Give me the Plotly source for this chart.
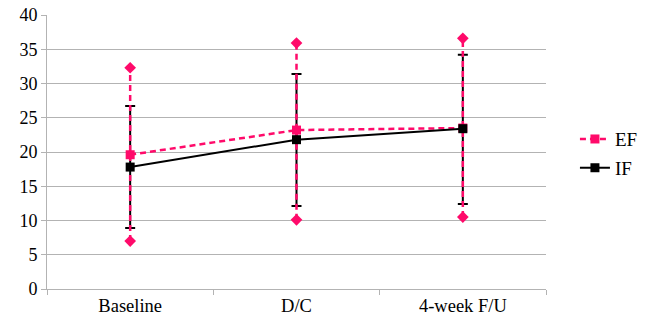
import plotly.graph_objects as go

categories = ["Baseline", "D/C", "4-week F/U"]
ef_mean = [19.6, 23.2, 23.5]
ef_low = [7.0, 10.1, 10.5]
ef_high = [32.3, 35.9, 36.6]
if_mean = [17.8, 21.8, 23.4]
if_low = [8.9, 12.1, 12.4]
if_high = [26.7, 31.4, 34.2]
y_ticks = [0, 5, 10, 15, 20, 25, 30, 35, 40]

PINK = "#ff0a6a"
FONT = "Liberation Serif, Times New Roman, serif"

fig = go.Figure()

# IF error bars (solid with caps)
fig.add_trace(go.Scatter(
    x=categories, y=if_mean, mode="markers",
    marker=dict(size=1, color="rgba(0,0,0,0)"),
    error_y=dict(type="data", symmetric=False,
                 array=[h - m for h, m in zip(if_high, if_mean)],
                 arrayminus=[m - l for m, l in zip(if_mean, if_low)],
                 color="black", thickness=2, width=5),
    showlegend=False, hoverinfo="skip"))

# EF error bars (dashed with diamond ends)
ex, ey = [], []
for c, lo, hi in zip(categories, ef_low, ef_high):
    ex += [c, c, None]
    ey += [lo, hi, None]
fig.add_trace(go.Scatter(
    x=ex, y=ey, mode="lines+markers",
    line=dict(color=PINK, width=2.5, dash="6px,4px"),
    marker=dict(symbol="diamond", size=9, color=PINK),
    showlegend=False, hoverinfo="skip"))

fig.add_trace(go.Scatter(
    x=categories, y=ef_mean, mode="lines+markers", name="EF",
    line=dict(color=PINK, width=2.5, dash="6px,4px"),
    marker=dict(symbol="square", size=9, color=PINK), legend="legend"))

fig.add_trace(go.Scatter(
    x=categories, y=if_mean, mode="lines+markers", name="IF",
    line=dict(color="black", width=2),
    marker=dict(symbol="square", size=9, color="black"), legend="legend2"))

legend_common = dict(xanchor="left", yanchor="middle",
                     font=dict(family=FONT, size=19), bgcolor="rgba(0,0,0,0)")

fig.update_layout(
    width=650, height=324,
    margin=dict(l=47, r=104, t=15, b=35, autoexpand=False),
    paper_bgcolor="white", plot_bgcolor="white",
    font=dict(family=FONT, size=18, color="black"),
    legend=dict(x=1.058, y=0.547, **legend_common),
    legend2=dict(x=1.058, y=0.442, **legend_common),
    xaxis=dict(type="category", categoryorder="array", categoryarray=categories,
               range=[-0.5, 2.5], automargin=False,
               showgrid=False, showline=True,
               linecolor="#b3b3b3", linewidth=1,
               ticks="outside", tickson="boundaries", ticklen=5,
               tickcolor="#b3b3b3",
               tickfont=dict(family=FONT, size=18.5, color="black"),
               ticklabeloverflow="allow"),
    yaxis=dict(range=[0, 40], tickvals=y_ticks, showgrid=True, automargin=False,
               gridcolor="#b3b3b3", gridwidth=1, showline=True,
               linecolor="#b3b3b3", linewidth=1, ticks="outside",
               ticklen=5, tickcolor="#b3b3b3", zeroline=False,
               tickfont=dict(family=FONT, size=18, color="black"),
               ticklabeloverflow="allow"),
)

fig.write_html(
    "out.html",
    config={"displayModeBar": False},
    post_script="document.body.style.margin='0';document.body.style.padding='0';",
)
